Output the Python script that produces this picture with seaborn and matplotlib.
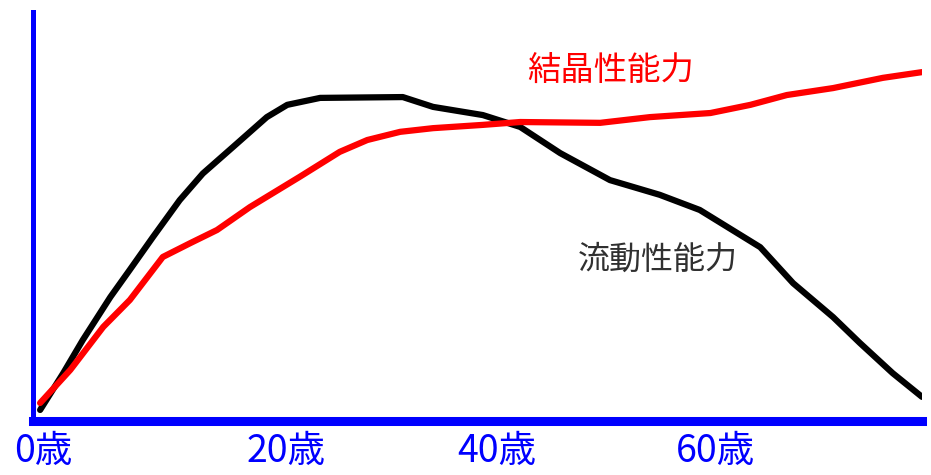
import pandas as pd
import matplotlib
matplotlib.use("Agg")
import matplotlib.pyplot as plt
import seaborn as sns

# ---- data (x and y on a 0-100 relative scale) ----
fluid_x = [0.8, 3.4, 5.6, 8.7, 10.9, 13.5, 16.5, 19.1, 22.5, 26.3, 28.6, 32.3,
           41.6, 45.0, 50.6, 54.8, 59.3, 64.9, 70.5, 75.0, 81.8, 85.5, 90.0,
           93.0, 96.7, 100.0]
fluid_y = [2.7, 11.7, 19.8, 30.3, 37.0, 45.0, 54.0, 60.5, 67.0, 74.3, 77.3, 79.0,
           79.2, 76.8, 74.8, 71.9, 65.5, 58.9, 55.3, 51.6, 42.5, 33.7, 25.4,
           19.1, 11.7, 5.9]

cryst_x = [0.8, 4.2, 7.9, 10.9, 14.6, 17.7, 20.7, 24.4, 30.0, 34.5, 37.6, 41.3,
           45.0, 50.6, 54.8, 63.8, 69.4, 76.2, 80.7, 84.8, 90.0, 95.6, 100.0]
cryst_y = [4.4, 12.5, 23.0, 29.6, 40.1, 43.5, 46.7, 52.3, 59.7, 65.8, 68.7, 70.7,
           71.6, 72.4, 73.1, 72.9, 74.3, 75.3, 77.3, 79.7, 81.4, 83.9, 85.3]

age_labels = ["0歳", "20歳", "40歳", "60歳"]
age_ticks = [1.2, 28.5, 52.2, 76.8]

fluid_name = "流動性能力"
cryst_name = "結晶性能力"

df = pd.concat([
    pd.DataFrame({"x": fluid_x, "y": fluid_y, "ability": fluid_name}),
    pd.DataFrame({"x": cryst_x, "y": cryst_y, "ability": cryst_name}),
], ignore_index=True)

sns.set_style("white")
plt.rcParams["font.family"] = ["Noto Sans CJK JP", "DejaVu Sans"]

fig = plt.figure(figsize=(9.31, 4.75), dpi=100)
ax = fig.add_axes([33 / 931, 54 / 475, 889 / 931, 409 / 475])

sns.lineplot(
    data=df, x="x", y="y", hue="ability",
    palette={fluid_name: "black", cryst_name: "#ff0000"},
    hue_order=[fluid_name, cryst_name],
    estimator=None, sort=False, linewidth=4.5, legend=False, ax=ax,
    solid_joinstyle="round", solid_capstyle="round",
)

ax.set_xlim(0, 100)
ax.set_ylim(0, 100)

# blue axes, only left and bottom
for side in ["top", "right"]:
    ax.spines[side].set_visible(False)
ax.spines["left"].set_color("#0000ff")
ax.spines["left"].set_linewidth(3.6)
ax.spines["bottom"].set_color("#0000ff")
ax.spines["bottom"].set_linewidth(6.5)

ax.set_xticks(age_ticks)
ax.set_xticklabels(age_labels, color="#0000ff", fontsize=27)
ax.tick_params(axis="x", length=0, pad=8)
ax.set_yticks([])
ax.set_xlabel("")
ax.set_ylabel("")

ax.text(65.0, 85.6, cryst_name, color="#ff0000", fontsize=24,
        ha="center", va="center")
ax.text(70.3, 39.4, fluid_name, color="#303030", fontsize=23,
        ha="center", va="center")

fig.savefig("out.png", dpi=100)
